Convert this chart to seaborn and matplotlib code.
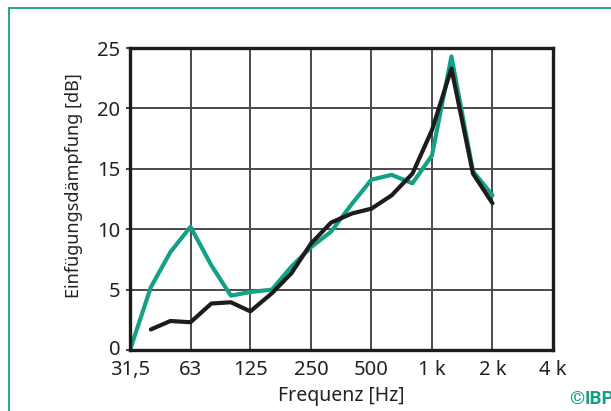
import numpy as np
import pandas as pd
import matplotlib
matplotlib.use("Agg")
import matplotlib.pyplot as plt
import matplotlib.transforms as mtransforms
import seaborn as sns
from matplotlib.lines import Line2D

# Data (third-octave band centres, Hz)
freq_green = [31.5, 40, 50, 63, 80, 100, 125, 160, 200, 250, 315, 400, 500,
              630, 800, 1000, 1250, 1600, 2000]
green_db = [0.0, 5.2, 8.1, 10.2, 7.0, 4.5, 4.8, 5.0, 6.9, 8.5, 9.8, 12.1, 14.1,
            14.5, 13.8, 16.1, 24.3, 14.8, 12.8]
freq_black = [40, 50, 63, 80, 100, 125, 160, 200, 250, 315, 400, 500,
              630, 800, 1000, 1250, 1600, 2000]
black_db = [1.7, 2.4, 2.3, 3.85, 3.95, 3.2, 4.7, 6.35, 8.8, 10.55, 11.3, 11.7,
            12.8, 14.6, 18.2, 23.3, 14.6, 12.15]
x_ticks = [31.5, 63, 125, 250, 500, 1000, 2000, 4000]
x_ticklabels = ["31,5", "63", "125", "250", "500", "1 k", "2 k", "4 k"]
y_ticks = [0, 5, 10, 15, 20, 25]

GREEN = "#14a085"
BLACK = "#1c1c1c"

df = pd.concat([
    pd.DataFrame({"f": freq_green, "db": green_db, "s": "green"}),
    pd.DataFrame({"f": freq_black, "db": black_db, "s": "black"}),
], ignore_index=True)

sns.set_theme(style="white")
plt.rcParams["font.family"] = ["Noto Sans", "DejaVu Sans"]

fig = plt.figure(figsize=(6.11, 4.11), dpi=100)
ax = fig.add_axes([130 / 611, 61 / 411, 423 / 611, 302 / 411])

sns.lineplot(data=df, x="f", y="db", hue="s", hue_order=["green", "black"],
             palette={"green": GREEN, "black": BLACK}, linewidth=3.0,
             legend=False, ax=ax, sort=False, estimator=None)

ax.set_xscale("log", base=2)
ax.set_xlim(31.5, 4000)
ax.set_ylim(0, 25)
ax.set_xticks(x_ticks)
ax.set_xticklabels(x_ticklabels)
ax.set_yticks(y_ticks)
ax.xaxis.set_minor_locator(matplotlib.ticker.NullLocator())
ax.grid(True, color="#4a4a4a", linewidth=1.4)
ax.set_axisbelow(True)
for sp in ax.spines.values():
    sp.set_visible(True)
    sp.set_color(BLACK)
    sp.set_linewidth(2.4)
ax.tick_params(axis="both", which="major", labelsize=14.5, colors="#222222",
               length=3, width=1.2, direction="out", pad=3)
ax.tick_params(axis="x", length=0, pad=7)
ax.tick_params(axis="y", left=True, pad=4)
# nudge the "0" label slightly up, as in the reference
zero_lbl = ax.get_yticklabels()[0]
zero_lbl.set_transform(zero_lbl.get_transform() +
                       mtransforms.ScaledTranslation(0, 3 / 100, fig.dpi_scale_trans))

ax.set_xlabel("Frequenz [Hz]", fontsize=14, color="#222222")
ax.xaxis.set_label_coords(0.5, -0.118)
ax.set_ylabel("Einfügungsdämpfung [dB]", fontsize=13, color="#222222")
ax.yaxis.set_label_coords(-0.111, 0.546)

# Green frame (left and top)
fig.add_artist(Line2D([9 / 611, 9 / 611], [0, 1 - 8 / 411], transform=fig.transFigure,
                      color=GREEN, linewidth=1.3))
fig.add_artist(Line2D([9 / 611, 1], [1 - 8 / 411, 1 - 8 / 411], transform=fig.transFigure,
                      color=GREEN, linewidth=1.3))
fig.text(569 / 611, 3 / 411, "©", color=GREEN, fontsize=14, fontweight="bold",
         family=["Roboto"], ha="left", va="bottom")
fig.text(585 / 611, 3 / 411, "IBP", color=GREEN, fontsize=13.5, fontweight="bold",
         family=["Roboto"], ha="left", va="bottom")

fig.savefig("out.png", dpi=100)
